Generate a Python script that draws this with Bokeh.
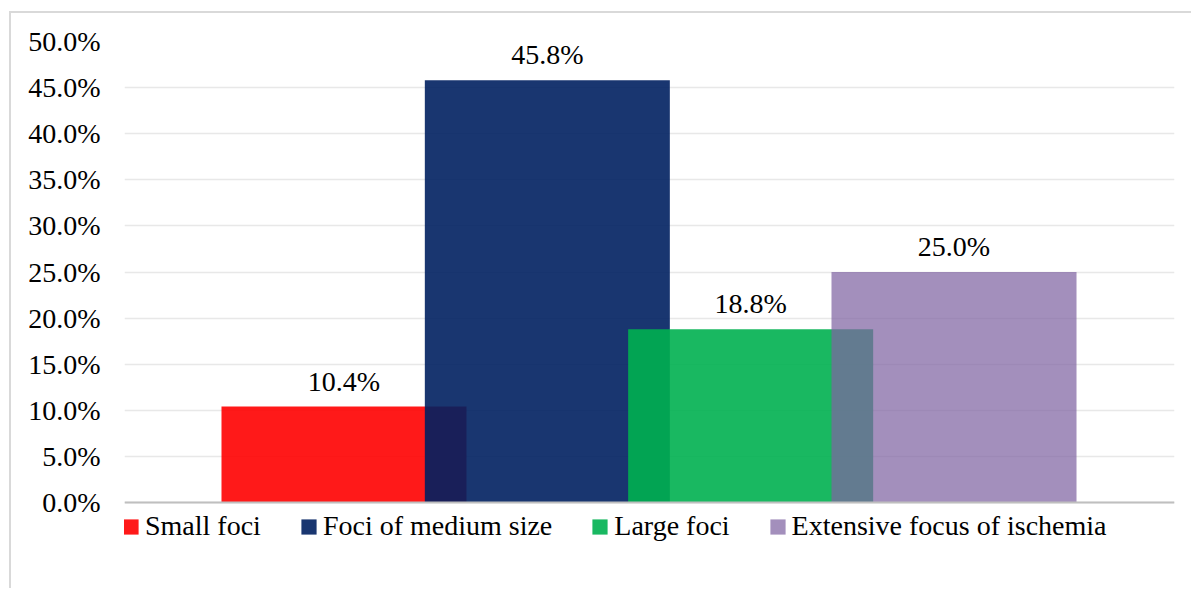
from bokeh.plotting import figure
from bokeh.models import ColumnDataSource, Range1d, FixedTicker, NumeralTickFormatter, Legend, LegendItem, Span
from bokeh.core.properties import value
from bokeh.embed import file_html
from bokeh.resources import INLINE

categories = ["Small foci", "Foci of medium size", "Large foci", "Extensive focus of ischemia"]
values = [0.104, 0.458, 0.188, 0.250]
labels = ["10.4%", "45.8%", "18.8%", "25.0%"]
colors = ["#FF0000", "#002060", "#00B050", "#8064A2"]
alphas = [0.9, 0.9, 0.9, 0.72]
y_ticks = [0.0, 0.05, 0.10, 0.15, 0.20, 0.25, 0.30, 0.35, 0.40, 0.45, 0.50]

FONT = "Liberation Serif"
FS = "28px"

xs = list(range(len(categories)))
src = ColumnDataSource(dict(x=xs, top=values, label=labels, color=colors, alpha=alphas, cat=categories))

p = figure(width=1182, height=577, x_range=Range1d(-1.0795, 4.0844), y_range=Range1d(-0.0629, 0.5),
           output_backend="svg", toolbar_location=None,
           min_border_left=113, min_border_right=19, min_border_top=28, min_border_bottom=30)
p.styles = {"margin-left": "9px", "margin-top": "11px",
            "border-left": "2px solid #d9d9d9", "border-top": "2px solid #d9d9d9"}
p.outline_line_color = None
p.background_fill_color = "white"
p.border_fill_color = "white"

r = p.vbar(x="x", top="top", bottom=0, width=1.205, fill_color="color", fill_alpha="alpha",
           line_color=None, source=src)

p.text(x="x", y="top", text="label", source=src, text_align="center", text_baseline="bottom",
       y_offset=-10, text_font=value(FONT), text_font_size=FS, text_color="black")

# y axis
p.yaxis.ticker = FixedTicker(ticks=y_ticks)
p.yaxis.formatter = NumeralTickFormatter(format="0.0%")
p.yaxis.axis_line_color = None
p.yaxis.major_tick_line_color = None
p.yaxis.minor_tick_line_color = None
p.yaxis.major_tick_out = 0
p.yaxis.major_tick_in = 0
p.yaxis.major_label_standoff = 24
p.yaxis.major_label_text_font = FONT
p.yaxis.major_label_text_font_size = FS
p.yaxis.major_label_text_color = "black"

p.xaxis.visible = False
p.xgrid.grid_line_color = None
p.ygrid.ticker = FixedTicker(ticks=y_ticks)
p.ygrid.grid_line_color = "#e8e8e8"
p.ygrid.grid_line_width = 1.5

baseline = Span(location=0, dimension="width", line_color="#bfbfbf", line_width=2)
p.add_layout(baseline)

items = [LegendItem(label=c, renderers=[r], index=i) for i, c in enumerate(categories)]
legend = Legend(items=items, orientation="horizontal", location=(-3, 18),
                glyph_width=19, glyph_height=19, label_standoff=5, spacing=38,
                padding=0, margin=0, border_line_alpha=0, background_fill_alpha=0,
                label_text_font=FONT, label_text_font_size=FS, label_text_color="black")
p.add_layout(legend, "center")

open("out.html", "w").write(file_html(p, INLINE))
